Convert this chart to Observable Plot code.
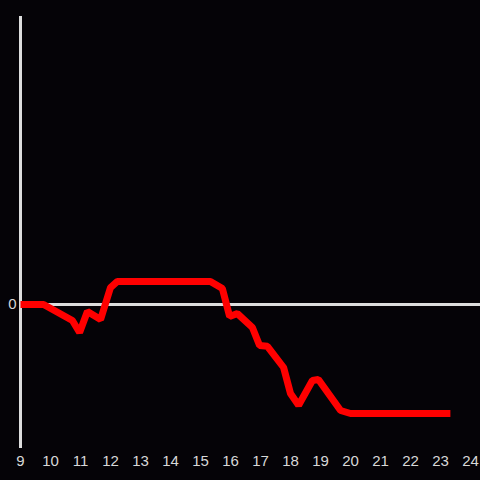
<!DOCTYPE html>
<html>
<head>
<meta charset="utf-8">
<script src="https://cdn.jsdelivr.net/npm/d3@7"></script>
<script src="https://cdn.jsdelivr.net/npm/@observablehq/plot@0.6"></script>
<style>
  html, body { margin: 0; padding: 0; background: #050307; }
  #chart { width: 480px; height: 480px; }
</style>
</head>
<body>
<div id="chart"></div>
<script>
const hours = [9, 9.77, 10.73, 10.97, 11.23, 11.67, 12, 12.23, 15.33, 15.73, 15.97, 16.23, 16.73, 16.97, 17.23, 17.77, 18, 18.27, 18.73, 18.93, 19.67, 20, 23.33];
const values = [0, 0, -0.111, -0.194, -0.049, -0.104, 0.118, 0.16, 0.16, 0.111, -0.083, -0.063, -0.16, -0.285, -0.29, -0.4375, -0.618, -0.70, -0.528, -0.521, -0.736, -0.757, -0.757];
const xTicks = [9, 10, 11, 12, 13, 14, 15, 16, 17, 18, 19, 20, 21, 22, 23, 24];
const yTicks = [0];

const data = hours.map((h, i) => ({hour: h, value: values[i]}));

const chart = Plot.plot({
  width: 480,
  height: 480,
  marginTop: 16,
  marginBottom: 32,
  marginLeft: 20,
  marginRight: 10,
  style: {background: "#050307", color: "#d8d8d8", fontSize: "15px", fontFamily: "'Liberation Sans', Arial, sans-serif"},
  x: {domain: [9, 24]},
  y: {domain: [-1, 2]},
  marks: [
    Plot.axisX({ticks: xTicks, tickSize: 0, tickPadding: 7, label: null, tickFormat: d => String(d)}),
    Plot.axisY({ticks: yTicks, tickSize: 0, tickPadding: 4, label: null, tickFormat: d => String(d)}),
    Plot.ruleY(yTicks, {stroke: "#dddddd", strokeWidth: 3, insetRight: -10}),
    Plot.ruleX([9], {stroke: "#dddddd", strokeWidth: 3}),
    Plot.line(data, {x: "hour", y: "value", stroke: "#ff0000", strokeWidth: 7, strokeLinejoin: "miter", strokeLinecap: "butt"})
  ]
});
document.getElementById("chart").appendChild(chart);
</script>
</body>
</html>
